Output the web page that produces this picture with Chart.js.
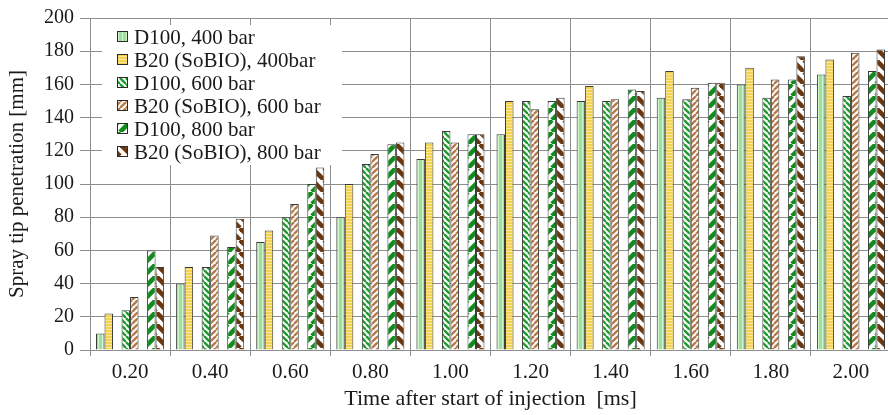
<!DOCTYPE html>
<html>
<head>
<meta charset="utf-8">
<title>Spray tip penetration</title>
<script src="https://cdn.jsdelivr.net/npm/chart.js@4.4.1/dist/chart.umd.min.js"></script>
<style>
  html, body { margin: 0; padding: 0; background: #fff; overflow: hidden; }
  #wrap { width: 892px; height: 415px; }
</style>
</head>
<body>
<div id="wrap"><canvas id="chart" width="892" height="415"></canvas></div>
<script>
// time after start of injection [ms]
const times = ['0.20', '0.40', '0.60', '0.80', '1.00', '1.20', '1.40', '1.60', '1.80', '2.00'];

// spray tip penetration [mm]
const d100_400 = [10, 40, 65, 80, 115, 130, 150, 152, 160, 166];
const b20_400 = [22, 50, 72, 100, 125, 150, 159, 168, 170, 175];
const d100_600 = [24, 50, 80, 112, 132, 150, 150, 151, 152, 153];
const b20_600 = [32, 69, 88, 118, 125, 145, 151, 158, 163, 179];
const d100_800 = [60, 62, 100, 124, 130, 150, 157, 161, 163, 168];
const b20_800 = [50, 79, 110, 125, 130, 152, 156, 161, 177, 181];

const FONT = '"Liberation Serif", "Times New Roman", serif';
const GRID = '#8e8e8e';
const INK = '#1a1a1a';

function makePattern(w, h, draw) {
  const c = document.createElement('canvas');
  c.width = w;
  c.height = h;
  const g = c.getContext('2d');
  draw(g, w, h);
  return g.createPattern(c, 'repeat');
}

function vertical(bg, fg) {
  return makePattern(4, 4, (g) => {
    g.fillStyle = bg;
    g.fillRect(0, 0, 4, 4);
    g.fillStyle = fg;
    g.fillRect(2, 0, 1, 4);
  });
}

function horizontal(bg, fg) {
  return makePattern(3, 3, (g) => {
    g.fillStyle = bg;
    g.fillRect(0, 0, 3, 3);
    g.fillStyle = fg;
    g.fillRect(0, 2, 3, 1);
  });
}

// dir '\\' runs top-left to bottom-right, '/' bottom-left to top-right
function diagonal(bg, fg, size, width, dir) {
  return makePattern(size, size, (g, s) => {
    g.fillStyle = bg;
    g.fillRect(0, 0, s, s);
    g.strokeStyle = fg;
    g.lineWidth = width;
    [-s, 0, s].forEach((o) => {
      g.beginPath();
      if (dir === '\\') {
        g.moveTo(o, 0);
        g.lineTo(o + s, s);
      } else {
        g.moveTo(o, s);
        g.lineTo(o + s, 0);
      }
      g.stroke();
    });
  });
}

const fills = {
  d100_400: vertical('#9ee09d', '#d0f4cc'),
  b20_400: horizontal('#f4d14e', '#fbe9a0'),
  d100_600: diagonal('#ffffff', '#1e9c2c', 6, 2.4, '\\'),
  b20_600: diagonal('#ffffff', '#b47b4a', 6, 2.4, '/'),
  d100_800: diagonal('#ffffff', '#0f8c1c', 12, 4.6, '/'),
  b20_800: diagonal('#ffffff', '#6a3810', 12, 4.6, '\\'),
};

function series(label, data, key) {
  return {
    label,
    data,
    backgroundColor: fills[key],
    borderColor: '#3a3a3a',
    borderWidth: 1,
    borderSkipped: 'bottom',
  };
}

// empty slot that keeps the pressure pairs apart inside each group
function spacer() {
  return { label: '', data: times.map(() => null) };
}

// legend drawn on a white box in the upper left of the plot
const legendBox = {
  id: 'legendBox',
  beforeDatasetsDraw(chart) {
    const { ctx, chartArea } = chart;
    const x0 = chartArea.left + 12;
    const y0 = chartArea.top + 7;
    ctx.save();
    ctx.fillStyle = '#fff';
    ctx.fillRect(x0, y0, 240, 140);
    ctx.font = `21px ${FONT}`;
    ctx.textBaseline = 'middle';
    ctx.textAlign = 'left';
    chart.data.datasets.filter((d) => d.label).forEach((d, i) => {
      const y = y0 + 12 + i * 23;
      ctx.fillStyle = d.backgroundColor;
      ctx.fillRect(x0 + 15, y - 6, 11, 11);
      ctx.strokeStyle = '#2a2a2a';
      ctx.lineWidth = 1;
      ctx.strokeRect(x0 + 15.5, y - 5.5, 10, 10);
      ctx.fillStyle = INK;
      ctx.fillText(d.label, x0 + 32, y + 1);
    });
    ctx.restore();
  },
};

new Chart(document.getElementById('chart'), {
  type: 'bar',
  data: {
    labels: times,
    datasets: [
      series('D100, 400 bar', d100_400, 'd100_400'),
      series('B20 (SoBIO), 400bar', b20_400, 'b20_400'),
      spacer(),
      series('D100, 600 bar', d100_600, 'd100_600'),
      series('B20 (SoBIO), 600 bar', b20_600, 'b20_600'),
      spacer(),
      series('D100, 800 bar', d100_800, 'd100_800'),
      series('B20 (SoBIO), 800 bar', b20_800, 'b20_800'),
    ],
  },
  options: {
    responsive: false,
    animation: false,
    devicePixelRatio: 1,
    layout: { padding: { top: 18, right: 1, left: 0, bottom: 0 } },
    datasets: {
      bar: { categoryPercentage: 0.85, barPercentage: 1.0 },
    },
    plugins: {
      legend: { display: false },
      tooltip: { enabled: false },
    },
    scales: {
      x: {
        grid: { color: GRID, lineWidth: 1, tickLength: 6, offset: true },
        border: { color: GRID },
        ticks: {
          color: INK,
          font: { family: FONT, size: 21 },
          padding: 4,
          maxRotation: 0,
        },
        title: {
          display: true,
          text: 'Time after start of injection  [ms]',
          color: INK,
          font: { family: FONT, size: 22 },
          padding: { top: 0, bottom: 3 },
        },
        afterFit(scale) {
          scale.height = 65;
        },
      },
      y: {
        min: 0,
        max: 200,
        grid: { color: GRID, lineWidth: 1, tickLength: 10 },
        border: { color: GRID },
        ticks: {
          stepSize: 20,
          color: INK,
          font: { family: FONT, size: 20 },
          padding: 6,
        },
        title: {
          display: true,
          text: 'Spray tip penetration [mm]',
          color: INK,
          font: { family: FONT, size: 21 },
          padding: { top: 5, bottom: 0 },
        },
        afterFit(scale) {
          scale.width = 90;
        },
      },
    },
  },
  plugins: [legendBox],
});
</script>
</body>
</html>
